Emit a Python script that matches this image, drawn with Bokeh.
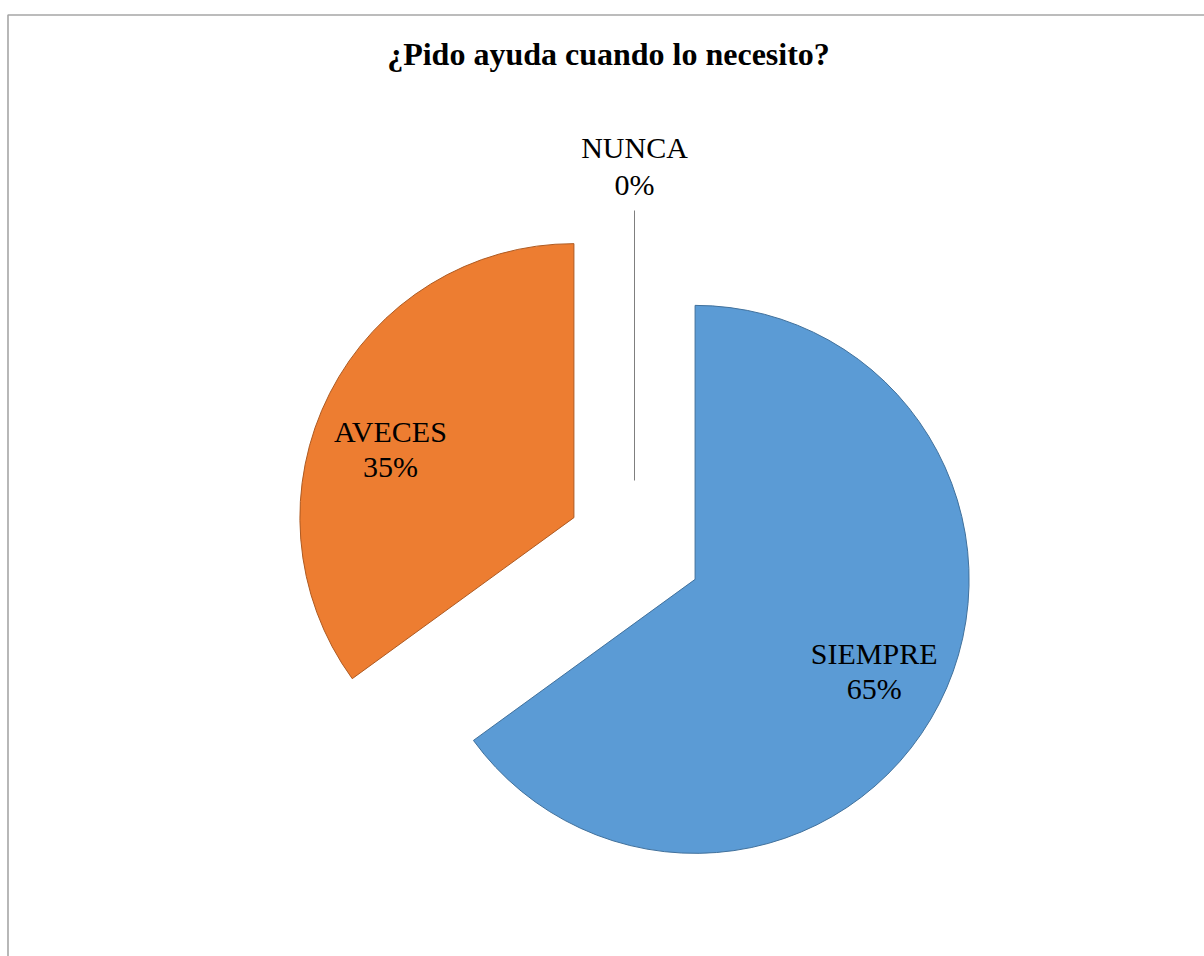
import math
from bokeh.plotting import figure
from bokeh.models import Range1d
from bokeh.core.properties import value
from bokeh.embed import file_html
from bokeh.resources import INLINE

# ---- data ----
title_text = "¿Pido ayuda cuando lo necesito?"
categories = ["SIEMPRE", "AVECES", "NUNCA"]
values = [65, 35, 0]
colors = ["#5b9bd5", "#ed7d31", "#a5a5a5"]
edge_colors = ["#41719c", "#ae5a21", "#7c7c7c"]

# ---- layout ----
W, H = 1204, 956
def Y(py):
    return H - py

cx, cy = 634, Y(548)        # pie centre
R = 274                     # radius
explode = 68                # explosion distance
label_r = [201, 196, None]  # label distance from slice vertex
label_nudge = [0.0, 6.4, 0.0]  # degrees
FONT = value("Liberation Serif")
DY = 10  # text baseline correction

p = figure(width=W, height=H, x_range=Range1d(0, W), y_range=Range1d(0, H),
           output_backend="svg", toolbar_location=None, min_border=0)
p.axis.visible = False
p.grid.visible = False
p.outline_line_color = None
p.background_fill_color = "white"
p.border_fill_color = "white"

# chart area border (top and left edges visible)
p.line([7.5, 7.5, W + 5], [-5, Y(14.5), Y(14.5)], line_color="#a6a6a6", line_width=1.6)

total = float(sum(values))
cum = 0.0
for i, (cat, v) in enumerate(zip(categories, values)):
    a0 = 90 - 360 * cum / total
    cum += v
    a1 = 90 - 360 * cum / total
    mid = math.radians((a0 + a1) / 2)
    ox = cx + explode * math.cos(mid)
    oy = cy + explode * math.sin(mid)
    pct = f"{round(100 * v / total)}%"
    if v > 0:
        p.wedge(x=[ox], y=[oy], radius=R, start_angle=math.radians(a1),
                end_angle=math.radians(a0), fill_color=colors[i],
                line_color=edge_colors[i], line_width=1)
        la = mid + math.radians(label_nudge[i])
        lx = ox + label_r[i] * math.cos(la)
        ly = oy + label_r[i] * math.sin(la)
        p.text(x=[lx], y=[ly + 7.5 + DY], text=[cat], text_font=FONT, text_font_size="30px",
               text_align="center", text_baseline="alphabetic", text_color="black")
        p.text(x=[lx], y=[ly - 28 + DY], text=[pct], text_font=FONT, text_font_size="30px",
               text_align="center", text_baseline="alphabetic", text_color="black")
    else:
        # leader line for zero slice
        ex = cx + (R + 64) * math.cos(mid)
        ey = cy + (R + 64) * math.sin(mid)
        p.line([ox, ex], [oy, ey], line_color="#7f7f7f", line_width=1)
        p.text(x=[ex], y=[ey + 16 + DY], text=[pct], text_font=FONT, text_font_size="30px",
               text_align="center", text_baseline="alphabetic", text_color="black")
        p.text(x=[ex], y=[ey + 53 + DY], text=[cat], text_font=FONT, text_font_size="30px",
               text_align="center", text_baseline="alphabetic", text_color="black")

p.text(x=[608], y=[Y(64) + 11], text=[title_text], text_font=FONT, text_font_size="32px",
       text_font_style="bold", text_align="center", text_baseline="alphabetic",
       text_color="black")

open("out.html", "w").write(file_html(p, INLINE))
